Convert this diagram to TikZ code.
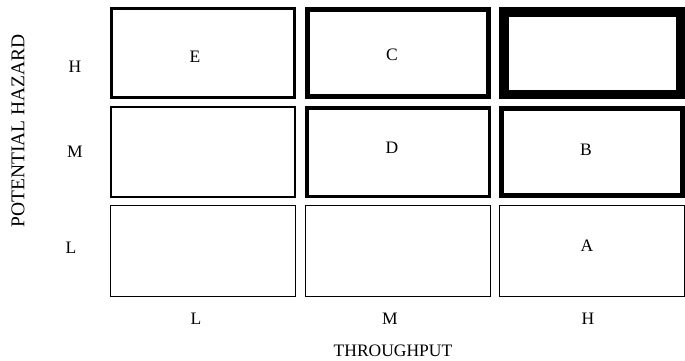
\documentclass[tikz,border=0pt]{standalone}
\usepackage{fontspec}
\setmainfont{Liberation Serif}
\usepackage{tikz}

\tikzset{
  cell/.style={draw, line width=#1, minimum width=186pt-#1, minimum height=92pt-#1, inner sep=0pt},
  lab/.style={font=\fontsize{17.5}{20}\selectfont, inner sep=0pt}
}

\begin{document}
\begin{tikzpicture}[x=1pt,y=-1pt]
  \useasboundingbox (0,0) rectangle (685,360);
  % risk cells
  \node[cell=3pt] (HL) at (203,53) {};
  \node[cell=5pt] (HM) at (398,53) {};
  \node[cell=9.5pt] (HH) at (592,53) {};
  \node[cell=2pt] (ML) at (203,152) {};
  \node[cell=3.5pt] (MM) at (398,152) {};
  \node[cell=5pt] (MH) at (592,152) {};
  \node[cell=1.2pt] (LL) at (203,251) {};
  \node[cell=1.2pt] (LM) at (398,251) {};
  \node[cell=1.2pt] (LH) at (592,251) {};
  \node[lab] (E) at (195,57) {E};
  \node[lab] (C) at (392,55) {C};
  \node[lab] (D) at (392,148) {D};
  \node[lab] (B) at (586,150) {B};
  \node[lab] (A) at (587,246) {A};
  % axes
  \node[lab] (rowH) at (75,67) {H};
  \node[lab] (rowM) at (75,152) {M};
  \node[lab] (rowL) at (71,248) {L};
  \node[lab] (colL) at (196,319) {L};
  \node[lab] (colM) at (390,319) {M};
  \node[lab] (colH) at (588,319) {H};
  \node[lab] (xaxis) at (393,351) {THROUGHPUT};
  \node[lab, font=\fontsize{19.5}{22}\selectfont, rotate=90] (yaxis) at (18,131) {POTENTIAL HAZARD};
\end{tikzpicture}
\end{document}
